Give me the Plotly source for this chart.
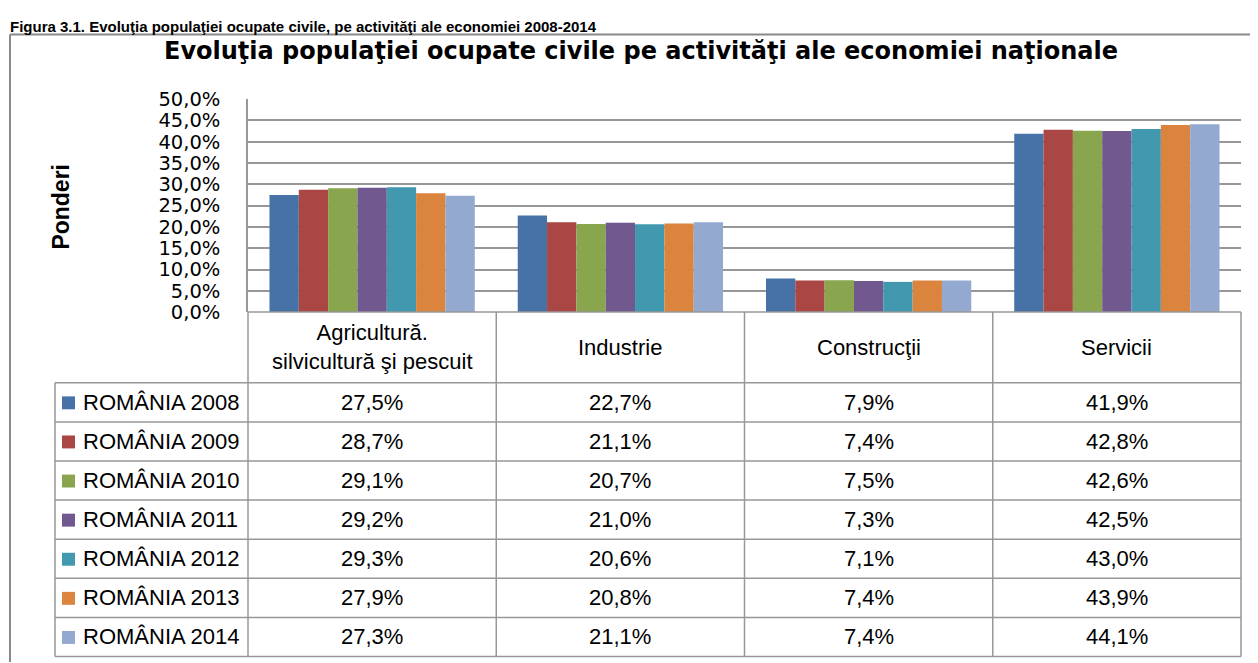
import plotly.graph_objects as go

# Empirical placement of the figure in the photographed page:
# picture_x = 8 + fig_x ; picture_y = OFF_Y + SCALE_Y * fig_y
OFF_X, OFF_Y, SCALE_Y = 8, 16.5, 0.97
PIC_W, PIC_H = 1258, 663
W = PIC_W - OFF_X
H = round((PIC_H - OFF_Y) / SCALE_Y)

categories = ["Agricultură. silvicultură şi pescuit", "Industrie", "Construcţii", "Servicii"]
header_labels = ["Agricultură.<br>silvicultură şi pescuit", "Industrie", "Construcţii", "Servicii"]
series_names = ["ROMÂNIA 2008", "ROMÂNIA 2009", "ROMÂNIA 2010", "ROMÂNIA 2011",
                "ROMÂNIA 2012", "ROMÂNIA 2013", "ROMÂNIA 2014"]
v2008 = [27.5, 22.7, 7.9, 41.9]
v2009 = [28.7, 21.1, 7.4, 42.8]
v2010 = [29.1, 20.7, 7.5, 42.6]
v2011 = [29.2, 21.0, 7.3, 42.5]
v2012 = [29.3, 20.6, 7.1, 43.0]
v2013 = [27.9, 20.8, 7.4, 43.9]
v2014 = [27.3, 21.1, 7.4, 44.1]
series_values = [v2008, v2009, v2010, v2011, v2012, v2013, v2014]
colors = ["#4672A8", "#AA4643", "#89A54E", "#71588F", "#4198AF", "#DB843D", "#93A9CF"]
tick_vals = [0, 5, 10, 15, 20, 25, 30, 35, 40, 45, 50]
tick_text = ["0,0%", "5,0%", "10,0%", "15,0%", "20,0%", "25,0%", "30,0%", "35,0%", "40,0%", "45,0%", "50,0%"]


def X(x):
    """picture pixel x -> paper fraction"""
    return (x - OFF_X) / W


def Y(y):
    """picture pixel y (from top) -> paper fraction"""
    return 1 - ((y - OFF_Y) / SCALE_Y) / H


def fmt(v):
    return f"{v:.1f}".replace(".", ",") + "%"


PLOT_L, PLOT_R, PLOT_T, PLOT_B = 248, 1241, 97, 311
TABLE_L = 55
HEADER_B = 382
TABLE_BOTTOM = 657
GRID = "#979797"

fig = go.Figure()
for name, vals, c in zip(series_names, series_values, colors):
    fig.add_trace(go.Bar(x=categories, y=vals, name=name, marker=dict(color=c, line=dict(width=0))))

shapes = []
annotations = []

# outer chart frame (top and left edges visible)
FRAME_T, FRAME_L = 32, 10
shapes.append(dict(type="line", xref="paper", yref="paper", x0=X(FRAME_L), x1=1, y0=Y(FRAME_T), y1=Y(FRAME_T),
                   line=dict(color="#8a8a8a", width=2)))
shapes.append(dict(type="line", xref="paper", yref="paper", x0=X(FRAME_L), x1=X(FRAME_L), y0=0, y1=Y(FRAME_T),
                   line=dict(color="#8a8a8a", width=2)))

# table lines
col_x = [PLOT_L + i * (PLOT_R - PLOT_L) / 4 for i in range(5)]
n_rows = len(series_names)
row_h = (TABLE_BOTTOM - HEADER_B) / n_rows
for xx in col_x:
    shapes.append(dict(type="line", xref="paper", yref="paper", x0=X(xx), x1=X(xx), y0=Y(PLOT_B), y1=Y(TABLE_BOTTOM),
                       line=dict(color=GRID, width=1.5)))
shapes.append(dict(type="line", xref="paper", yref="paper", x0=X(TABLE_L), x1=X(TABLE_L), y0=Y(HEADER_B), y1=Y(TABLE_BOTTOM),
                   line=dict(color=GRID, width=1.5)))
shapes.append(dict(type="line", xref="paper", yref="paper", x0=X(PLOT_L), x1=X(PLOT_R), y0=Y(PLOT_B), y1=Y(PLOT_B),
                   line=dict(color=GRID, width=1.5)))
for r in range(n_rows + 1):
    yy = HEADER_B + r * row_h
    shapes.append(dict(type="line", xref="paper", yref="paper", x0=X(TABLE_L), x1=X(PLOT_R), y0=Y(yy), y1=Y(yy),
                       line=dict(color=GRID, width=1.5)))

TABLE_FONT = dict(family="Liberation Sans, Arial, sans-serif", size=22, color="#000000")

# header labels
for cat, lab in zip(categories, header_labels):
    annotations.append(dict(x=cat, xref="x", y=Y((PLOT_B + HEADER_B) / 2), yref="paper", text=lab, showarrow=False,
                            xanchor="center", yanchor="middle", font=TABLE_FONT, align="center"))

# rows: legend key + label + values
for r, (name, vals, c) in enumerate(zip(series_names, series_values, colors)):
    yc = HEADER_B + (r + 0.5) * row_h
    shapes.append(dict(type="rect", xref="paper", yref="paper", x0=X(62), x1=X(75), y0=Y(yc + 7), y1=Y(yc - 6),
                       fillcolor=c, line=dict(width=0)))
    annotations.append(dict(x=X(81), xref="paper", y=Y(yc), yref="paper", text=name, showarrow=False,
                            xanchor="left", yanchor="middle", font=TABLE_FONT))
    for cat, v in zip(categories, vals):
        annotations.append(dict(x=cat, xref="x", y=Y(yc), yref="paper", text=fmt(v), showarrow=False,
                                xanchor="center", yanchor="middle", font=TABLE_FONT))

# titles
annotations.append(dict(x=X(641), xref="paper", y=Y(49), yref="paper",
                        text="<b>Evoluţia populaţiei ocupate civile pe activităţi ale economiei naţionale</b>",
                        showarrow=False, xanchor="center", yanchor="middle",
                        font=dict(family="DejaVu Sans, sans-serif", size=24, color="#000000")))
annotations.append(dict(x=X(8), xref="paper", y=Y(24), yref="paper",
                        text="<b>Figura 3.1. Evoluţia populaţiei ocupate civile, pe activităţi ale economiei 2008-2014</b>",
                        showarrow=False, xanchor="left", yanchor="middle",
                        font=dict(family="Liberation Sans, Arial, sans-serif", size=15, color="#000000")))
annotations.append(dict(x=X(61), xref="paper", y=Y(205), yref="paper", text="<b>Ponderi</b>", textangle=-90,
                        showarrow=False, xanchor="center", yanchor="middle",
                        font=dict(family="Liberation Sans, Arial, sans-serif", size=23, color="#000000")))

fig.update_layout(
    width=W, height=H,
    margin=dict(l=0, r=0, t=0, b=0),
    paper_bgcolor="white", plot_bgcolor="white",
    barmode="group", bargap=0.173, bargroupgap=0,
    showlegend=False,
    shapes=shapes, annotations=annotations,
    xaxis=dict(domain=[X(PLOT_L), X(PLOT_R)], showticklabels=False, showgrid=False, zeroline=False,
               showline=False, fixedrange=True),
    yaxis=dict(domain=[Y(PLOT_B), Y(PLOT_T)], range=[0, 50], tickvals=tick_vals, ticktext=tick_text,
               showgrid=True, gridcolor=GRID, gridwidth=1.5, zeroline=False,
               showline=True, linecolor=GRID, linewidth=1.5, ticks="", ticklabelstandoff=22,
               tickfont=dict(family="DejaVu Sans, sans-serif", size=19.5, color="#000000")),
)

fig.write_html("out.html")
